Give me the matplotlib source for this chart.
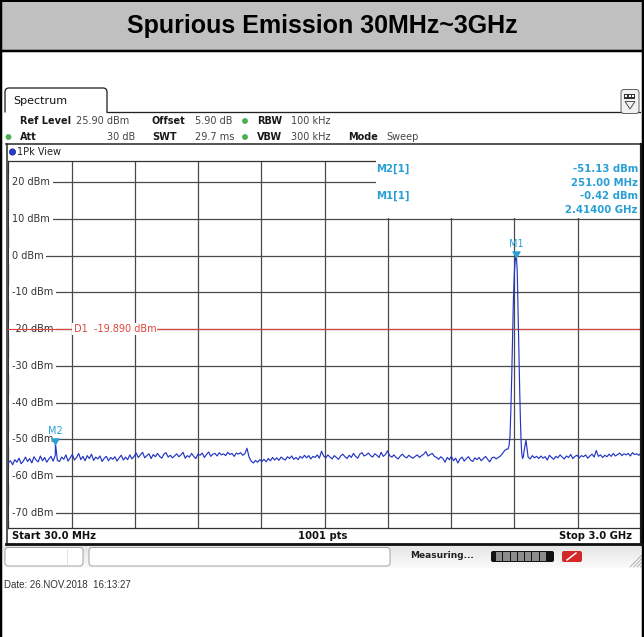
import numpy as np
import matplotlib
matplotlib.use('Agg')
import matplotlib.pyplot as plt
from matplotlib.patches import Rectangle, FancyBboxPatch, Polygon, Circle, PathPatch
from matplotlib.path import Path
from matplotlib.transforms import blended_transform_factory

plt.rcParams['font.family'] = ['DejaVu Sans']

# ---------------- data ----------------
start_mhz = 30.0
stop_mhz = 3000.0
n_grid = 298          # trace read every 10 MHz
ref_level = 25.9
range_db = 100.0

floor_level = [
    -56.3, -55.8, -56.9, -55.5, -56.2, -55.1, -56.6, -55.9, -54.8, -56.0,
    -55.2, -56.4, -54.7, -55.6, -56.1, -54.5, -55.8, -54.9, -56.2, -55.3,
    -54.6, -55.9, -54.3, -55.7, -56.0, -54.8, -55.4, -54.2, -55.9, -55.0,
    -54.1, -55.6, -54.9, -53.8, -55.5, -54.6, -55.8, -54.4, -55.2, -54.0,
    -55.7, -54.8, -55.3, -54.5, -56.0, -55.1, -54.6, -55.8, -54.9, -55.4,
    -54.7, -55.9, -55.0, -54.3, -55.6, -54.8, -55.5, -54.2, -55.3, -54.6,
    -53.7, -54.9, -54.2, -53.5, -55.0, -54.4, -53.9, -55.2, -54.1, -54.7,
    -53.8, -54.6, -55.1, -54.0, -53.6, -54.8, -54.3, -55.0, -54.5, -53.9,
    -54.7, -54.2, -53.5, -55.1, -54.4, -54.8, -53.8, -54.6, -55.2, -54.0,
    -54.3, -53.7, -54.9, -54.1, -53.4, -54.6, -54.0, -53.8, -54.5, -53.6,
    -54.2, -53.9, -54.4, -53.5, -54.1, -53.8, -54.6, -53.7, -54.0, -53.6,
    -54.3, -53.9, -52.4, -54.8, -55.9, -56.4, -55.7, -56.2, -55.5, -56.0,
    -55.4, -56.1, -55.2, -55.8, -54.9, -55.6, -55.0, -55.7, -54.8, -55.3,
    -55.6, -54.7, -55.2, -54.5, -55.4, -54.9, -55.5, -54.6, -55.1, -54.3,
    -55.0, -54.4, -55.3, -54.6, -54.9, -54.2, -55.1, -53.2, -54.5, -55.0,
    -54.2, -54.8, -55.3, -54.4, -54.9, -55.4, -54.5, -54.0, -54.7, -55.2,
    -54.3, -54.9, -53.8, -54.6, -55.1, -54.0, -53.6, -54.5, -54.2, -53.7,
    -54.4, -54.8, -53.9, -54.3, -54.9, -53.5, -54.6, -54.1, -53.1, -54.4,
    -54.8, -54.2, -54.9, -55.3, -54.5, -54.0, -54.7, -55.0, -54.3, -54.8,
    -55.1, -54.6, -54.2, -54.9, -54.4, -54.0, -53.3, -54.5, -54.1, -53.8,
    -54.6, -54.9, -55.4, -54.7, -55.2, -56.2, -54.9, -55.5, -54.6, -55.8,
    -55.1, -56.4, -55.3, -54.8, -55.9, -55.2, -54.7, -55.6, -56.0, -55.0,
    -55.5, -54.9, -55.8, -55.2, -54.6, -55.4, -56.1, -55.0, -54.8, -55.3,
    -54.9, -54.5, -53.8, -53.0, -52.6, -45.0, -20.0, -1.0, -3.0, -20.0,
    -38.0, -53.8, -53.5, -50.2, -54.8, -55.3, -54.4, -55.0, -54.6, -55.2,
    -54.5, -55.1, -54.7, -55.6, -54.3, -54.9, -55.4, -54.6, -55.0, -54.2,
    -54.8, -55.3, -54.5, -54.9, -54.1, -55.2, -54.6, -54.3, -55.0, -54.4,
    -54.7, -54.2, -55.1, -54.5, -54.0, -54.8, -53.0, -54.6, -54.2, -54.9,
    -54.3, -54.7, -54.0, -54.6, -53.8, -54.5, -54.1, -53.7, -54.4, -53.9,
    -54.2, -53.8, -54.5, -53.6, -54.1, -53.9, -54.3, -53.7,
]

# finer reading of the carrier at 2.414 GHz
peak_freq = [2376, 2381, 2385, 2389, 2393, 2397, 2401, 2405, 2409, 2412, 2414,
             2416, 2419, 2422, 2425, 2428, 2431, 2434, 2437, 2440, 2444, 2448]
peak_level = [-52.6, -51.5, -49.0, -42.0, -33.0, -22.0, -12.0, -5.0, -1.6, -0.6, -0.42,
              -0.9, -4.5, -13.0, -22.0, -30.5, -38.0, -45.0, -50.5, -53.8, -55.2, -54.6]

marker_names = ['M1', 'M2']
marker_freq = [2414.0, 251.0]
marker_level = [-0.42, -51.13]
d1_level = -19.89
y_ticks = [20, 10, 0, -10, -20, -30, -40, -50, -60, -70]
y_tick_labels = ['%d dBm' % v for v in y_ticks]

# ---------------- trace assembly ----------------
grid_f = np.linspace(start_mhz, stop_mhz, n_grid)
fl = np.array(floor_level)
keep = (grid_f < 2375) | (grid_f > 2445)
f_all = np.concatenate([grid_f[keep], peak_freq, [marker_freq[1]]])
l_all = np.concatenate([fl[keep], peak_level, [marker_level[1]]])
order = np.argsort(f_all)
f_all, l_all = f_all[order], l_all[order]

# ---------------- figure ----------------
W, H = 644, 637
fig = plt.figure(figsize=(W / 100, H / 100), dpi=100)
fig.patch.set_facecolor('white')

bg = fig.add_axes([0, 0, 1, 1], zorder=0)
bg.set_xlim(0, W); bg.set_ylim(H, 0); bg.axis('off')

ov = fig.add_axes([0, 0, 1, 1], zorder=10)
ov.set_xlim(0, W); ov.set_ylim(H, 0); ov.axis('off'); ov.patch.set_alpha(0)

PX = 0.72  # points per pixel
BLUE_M = '#2a9fd6'

# title band
bg.add_patch(Rectangle((0, 0), W, 50.5, fc='#c0c0c0', ec='none'))
bg.plot([0, W], [1, 1], color='black', lw=2 * PX)
bg.plot([0, W], [50.5, 50.5], color='black', lw=2.5 * PX)
bg.plot([1, 1], [0, H], color='black', lw=2.5 * PX)
bg.plot([643, 643], [0, H], color='black', lw=2.5 * PX)
bg.text(322, 26, 'Spurious Emission 30MHz~3GHz', ha='center', va='center',
        fontsize=18, fontweight='bold', family=['Liberation Sans', 'DejaVu Sans'], color='black')

# tab "Spectrum"
tab = Path([(5, 112.5), (5, 92), (5, 88), (9, 88), (103, 88), (107, 88), (107, 92), (107, 112.5), (641, 112.5)],
           [Path.MOVETO, Path.LINETO, Path.CURVE3, Path.CURVE3, Path.LINETO, Path.CURVE3, Path.CURVE3,
            Path.LINETO, Path.LINETO])
bg.add_patch(PathPatch(tab, fc='none', ec='#222222', lw=1.3 * PX))
bg.text(13, 101, 'Spectrum', fontsize=8, va='center', ha='left', color='#111111')

# icon top right
bg.add_patch(FancyBboxPatch((621, 89.5), 18, 24, boxstyle='round,pad=0,rounding_size=3',
                            fc='#f2f2f2', ec='#666666', lw=1 * PX))
bg.add_patch(Rectangle((624.5, 93.5), 11, 5, fc='#333333', ec='none'))
for xx in (626.5, 630, 633.5):
    bg.add_patch(Rectangle((xx - 1, 94.8), 2, 2.4, fc='white', ec='none'))
bg.add_patch(Polygon([(625, 101.5), (635, 101.5), (630, 109)], closed=True, fc='none', ec='#444444', lw=0.9 * PX))

# parameter rows
def lab(x, y, s, bold):
    bg.text(x, y, s, fontsize=7, va='center', ha='left',
            fontweight='bold' if bold else 'normal', color='#1a1a1a' if bold else '#444444')

def dot(x, y):
    bg.add_patch(Circle((x, y), 2.6, fc='#46b34a', ec='#2f8f33', lw=0.3))

r1, r2 = 121, 137
lab(20, r1, 'Ref Level', True); lab(76, r1, '25.90 dBm', False)
lab(152, r1, 'Offset', True); lab(195, r1, '5.90 dB', False)
dot(245, r1); lab(257, r1, 'RBW', True); lab(291, r1, '100 kHz', False)
dot(8.5, r2); lab(20, r2, 'Att', True)
bg.text(135.5, r2, '30 dB', fontsize=7, va='center', ha='right', color='#444444')
lab(152, r2, 'SWT', True); lab(195, r2, '29.7 ms', False)
dot(245, r2); lab(257, r2, 'VBW', True); lab(291, r2, '300 kHz', False)
lab(348, r2, 'Mode', True); lab(386, r2, 'Sweep', False)

# panel frame
bg.plot([6.5, 641], [143.5, 143.5], color='#222222', lw=1.5 * PX)
bg.plot([7, 7], [143.5, 544], color='#222222', lw=1.5 * PX)
ov.plot([641, 641], [143.5, 545], color='#1a1a1a', lw=2.2 * PX)
bg.plot([6.5, 642], [544, 544], color='#111111', lw=2.8 * PX)
bg.add_patch(Circle((12.5, 152), 3.2, fc='#1f3fd0', ec='#102080', lw=0.4))
bg.text(17.5, 152, '1Pk View', fontsize=7, va='center', ha='left', color='#222222')

# bottom labels
bg.text(12, 536, 'Start 30.0 MHz', fontsize=7.2, fontweight='bold', va='center', ha='left', color='#111111')
bg.text(323, 536, '1001 pts', fontsize=7.2, fontweight='bold', va='center', ha='center', color='#111111')
bg.text(632, 536, 'Stop 3.0 GHz', fontsize=7.2, fontweight='bold', va='center', ha='right', color='#111111')

# status bar
grad = np.linspace(0, 1, 50).reshape(-1, 1)
bg.imshow(grad, extent=(3, 641, 568, 545.5), cmap=matplotlib.colors.LinearSegmentedColormap.from_list(
    'g', ['#e4e4e4', '#fbfbfb']), aspect='auto', zorder=0.5)
bg.add_patch(FancyBboxPatch((5, 547.5), 78, 18.5, boxstyle='round,pad=0,rounding_size=3',
                            fc='white', ec='#9a9a9a', lw=0.9 * PX, zorder=1))
bg.plot([67, 67], [549, 564], color='#dddddd', lw=0.8 * PX, zorder=1.5)
bg.add_patch(FancyBboxPatch((89, 547.5), 301, 18.5, boxstyle='round,pad=0,rounding_size=3',
                            fc='white', ec='#9a9a9a', lw=0.9 * PX, zorder=1))
bg.text(410, 556, 'Measuring...', fontsize=6.5, fontweight='bold', va='center', ha='left', color='#222222')
bg.add_patch(FancyBboxPatch((491, 551), 63, 11, boxstyle='round,pad=0,rounding_size=2',
                            fc='#111111', ec='none', zorder=1))
for i in range(7):
    bg.add_patch(Rectangle((496 + i * 7.3, 552), 6.3, 9, fc='#8c8c8c', ec='none', zorder=1.5))
bg.add_patch(FancyBboxPatch((562, 551), 20, 11, boxstyle='round,pad=0,rounding_size=2',
                            fc='#d42828', ec='none', zorder=1))
bg.plot([567, 576], [560, 553], color='white', lw=1.5 * PX, zorder=2)
for k in range(4):
    bg.plot([630 + 3.5 * k, 642], [567, 555 + 3.5 * k], color='#999999', lw=0.7 * PX, zorder=1)

# date
bg.text(4, 585, 'Date: 26.NOV.2018  16:13:27', fontsize=7, va='center', ha='left',
        family=['Liberation Sans', 'DejaVu Sans'], color='#333333')

# ---------------- graticule / data axes ----------------
gl, gr, gt, gb = 8.4, 641.0, 160.6, 528.0
ax = fig.add_axes([gl / W, 1 - gb / H, (gr - gl) / W, (gb - gt) / H], zorder=5)
ax.set_facecolor('white')
ax.set_xlim(start_mhz, stop_mhz)
ax.set_ylim(ref_level - range_db, ref_level)
ax.set_xticks([]); ax.set_yticks([])
for s in ax.spines.values():
    s.set_color('#333333'); s.set_linewidth(0.9)

span = stop_mhz - start_mhz
for k in range(1, 10):
    ax.axvline(start_mhz + k * span / 10, color='#4a4a4a', lw=0.9, zorder=1)
for v in y_ticks:
    ax.axhline(v, color='#4a4a4a', lw=0.9, zorder=1)

blend = blended_transform_factory(ax.transAxes, ax.transData)
for v, t in zip(y_ticks, y_tick_labels):
    ax.text((12 - gl) / (gr - gl), v, t, transform=blend, fontsize=7, va='center', ha='left',
            color='#333333', zorder=3, bbox=dict(fc='white', ec='none', pad=2.0))

ax.axhline(d1_level, color='#e0453c', lw=0.8, zorder=4)
ax.text((73.5 - gl) / (gr - gl), d1_level, 'D1  -19.890 dBm', transform=blend, fontsize=7,
        va='center', ha='left', color='#e0453c', zorder=4.5, bbox=dict(fc='white', ec='none', pad=0.8))

ax.plot(f_all, l_all, color='#2336c4', lw=0.85, zorder=5)

tri = Path([(0, 0), (-0.5, 0.8), (0.5, 0.8), (0, 0)], [Path.MOVETO, Path.LINETO, Path.LINETO, Path.CLOSEPOLY])
for name, f, l in zip(marker_names, marker_freq, marker_level):
    ax.plot([f], [l], marker=tri, ms=8, color=BLUE_M, zorder=6, clip_on=False, ls='none')
    ax.annotate(name, (f, l), xytext=(0, 13), textcoords='offset pixels', ha='center', va='center',
                fontsize=7, color=BLUE_M, zorder=6)

# marker table (covers graticule top-right)
ov.add_patch(Rectangle((376, 159.6), 264.4, 58.1, fc='white', ec='none'))
tk = dict(fontsize=7.3, fontweight='bold', color=BLUE_M, va='center')
ov.text(376, 169, 'M2[1]', ha='left', **tk)
ov.text(638, 169, '%.2f dBm' % marker_level[1], ha='right', **tk)
ov.text(638, 182.5, '%.2f MHz' % marker_freq[1], ha='right', **tk)
ov.text(376, 196, 'M1[1]', ha='left', **tk)
ov.text(638, 196, '%.2f dBm' % marker_level[0], ha='right', **tk)
ov.text(638, 210, '%.5f GHz' % (marker_freq[0] / 1000), ha='right', **tk)

fig.savefig('out.png', dpi=100)
